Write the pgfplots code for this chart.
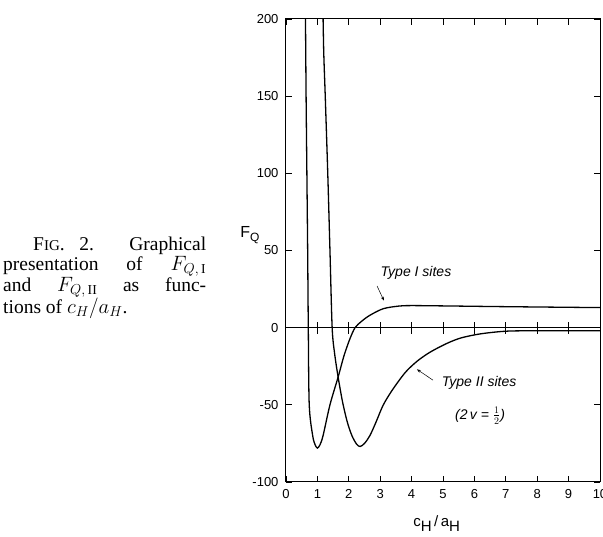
\documentclass[border=0pt]{standalone}
\usepackage{fontspec}
\setmainfont{Liberation Serif}
\setsansfont{Liberation Sans}
\usepackage{pgfplots}
\pgfplotsset{compat=1.18}
\usetikzlibrary{arrows.meta}

\begin{document}
\begin{tikzpicture}
\begin{axis}[
    width=314pt, height=463pt, scale only axis,
    at={(0,0)}, anchor=south west,
    xmin=0, xmax=10, ymin=-100, ymax=200,
    xtick={0,1,...,10},
    ytick={-100,-50,0,50,100,150,200},
    tick align=inside, major tick length=6pt,
    axis line style={line width=1pt},
    every tick/.style={line width=0.8pt, black},
    ticklabel style={font=\fontsize{13}{13}\sffamily},
    xticklabel style={yshift=-4pt},
    yticklabel style={xshift=-4pt},
    /pgf/number format/assume math mode=true,
    clip mode=individual,
    ]
% Type I sites
\addplot[line width=1.3pt, smooth, tension=0.5] coordinates {
    (0.615,215)(0.64,150)(0.665,100)(0.69,50)(0.71,0)(0.74,-50)
    (0.85,-70)(0.93,-76)(1.0,-78)(1.08,-76)(1.18,-70)(1.4,-50)
    (1.66,-32)(1.85,-18)(2.04,-7)(2.2,0)(2.4,4)(2.67,8)(3.1,12.3)
    (3.6,14)(4,14.3)(5,14.1)(7,13.6)(10,13)
    };
% Type II sites
\addplot[line width=1.3pt, smooth, tension=0.5] coordinates {
    (1.17,215)(1.2,180)(1.25,150)(1.33,100)(1.40,50)(1.47,0)
    (1.55,-17)(1.66,-32)(1.8,-48)(1.95,-61)(2.1,-70)(2.25,-75.5)
    (2.36,-77)(2.5,-75)(2.67,-70)(2.85,-62)(3.1,-50)(3.4,-40)
    (3.8,-29)(4.16,-22)(4.5,-17)(4.8,-13.5)(5.2,-9.5)(5.6,-6.5)
    (6.2,-4)(7,-2.3)(8,-2)(10,-2)
    };
% zero line with crossing ticks
\draw[line width=1pt] (axis cs:0,0) -- (axis cs:10,0);
\pgfplotsinvokeforeach{1,...,9}{
    \draw[line width=0.8pt] ([yshift=-6pt]axis cs:#1,0) -- ([yshift=6pt]axis cs:#1,0);
}
% annotations
\node[font=\fontsize{14}{14}\sffamily\itshape] at (axis cs:4.14,35.6) {Type I sites};
\draw[line width=0.5pt, -{Stealth[length=4pt]}] (axis cs:2.9,27) -- (axis cs:3.12,17.5);
\node[font=\fontsize{14}{14}\sffamily\itshape] at (axis cs:6.15,-36) {Type II sites};
\node[font=\fontsize{14}{14}\sffamily\itshape] at (axis cs:6.18,-57) {(2\,v = $\frac{1}{2}$)};
\draw[line width=0.5pt, -{Stealth[length=4pt]}] (axis cs:4.68,-34) -- (axis cs:4.17,-27);
% axis labels
\node[font=\fontsize{16}{16}\sffamily] at (axis cs:-1.15,60) {F\raisebox{-0.5ex}{\fontsize{12}{12}\selectfont Q}};
\node[font=\fontsize{15}{15}\sffamily] at (axis cs:4.8,-127) {c\raisebox{-0.6ex}{H}\,/\,a\raisebox{-0.6ex}{H}};
\end{axis}
% caption
\node[anchor=north west, text width=203pt, inner sep=0pt, align=justify,
      font=\fontsize{19.5}{19.5}\selectfont] at (-283pt,245pt)
    {\hspace*{30pt}F{\fontsize{15}{15}\selectfont IG}. 2. Graphical\linebreak
     presentation of $F_{Q,\,\mathrm{I}}$\linebreak
     and $F_{Q,\,\mathrm{II}}$ as func-\linebreak
     tions of $c_H/a_H$.};
\pgfresetboundingbox
\path (-286pt,-55pt) rectangle (317pt,482pt);
\end{tikzpicture}
\end{document}
